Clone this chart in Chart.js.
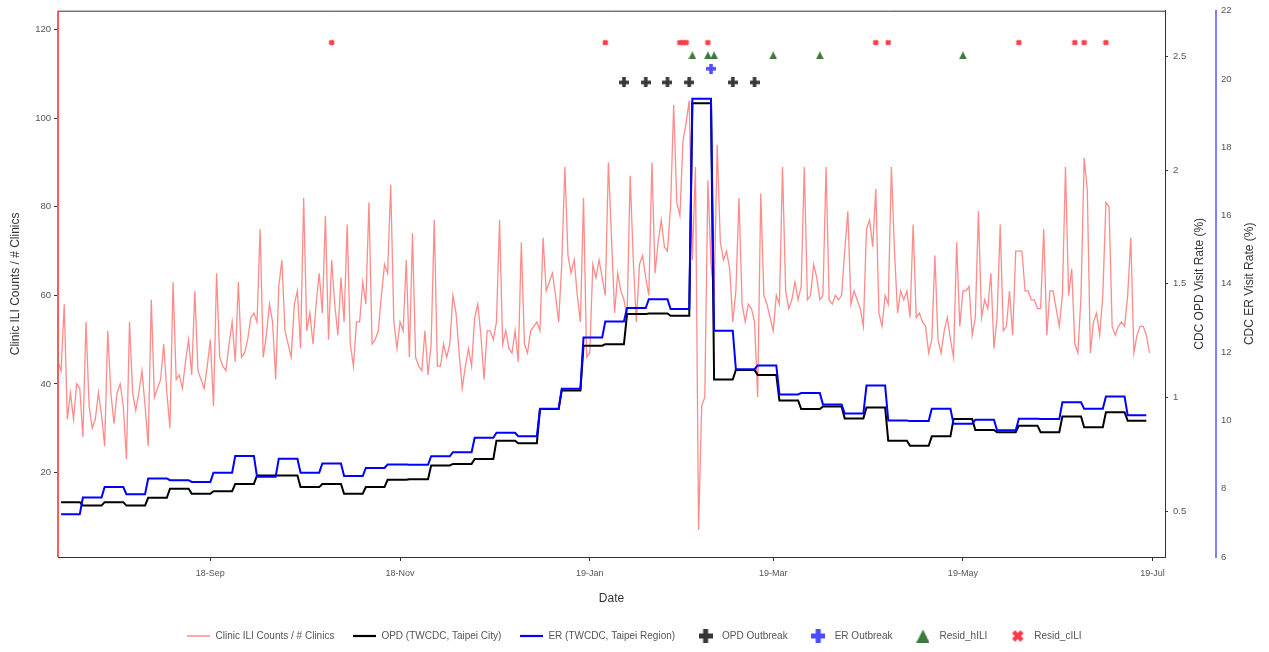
<!DOCTYPE html>
<html>
<head>
<meta charset="utf-8">
<title>Clinic ILI vs CDC visit rates</title>
<script src="https://cdn.jsdelivr.net/npm/chart.js@4/dist/chart.umd.min.js"></script>
<style>
  html, body { margin: 0; padding: 0; background: #fff; }
  #wrap { width: 1269px; height: 652px; }
</style>
</head>
<body>
<div id="wrap"><canvas id="iliChart" width="1269" height="652"></canvas></div>
<script>
// x values are days counted from 2018-07-01
const ILI_FIRST_DAY = 13;
const iliValues = [
  45, 43,
  58, 32, 38, 32, 40, 39, 28,
  54, 35, 30, 32, 38, 33, 26,
  52, 38, 31, 38, 40, 35, 23,
  54, 38, 34, 38, 43, 35, 26,
  59, 37, 39, 41, 49, 38, 30,
  63, 41, 42, 39, 45, 50, 42,
  61, 43, 41, 39, 44, 50, 35,
  65, 46, 44, 43, 49, 54, 45,
  63, 46, 47, 50, 55, 56, 54,
  75, 46, 51, 58, 54, 41, 62,
  68, 52, 49, 46, 58, 61, 48,
  82, 52, 56, 49, 58, 65, 56,
  78, 50, 68, 58, 51, 64, 54,
  76, 49, 44, 54, 54, 63, 58,
  81, 49, 50, 52, 60, 67, 65,
  85, 54, 48, 54, 52, 68, 46,
  74, 46, 44, 43, 52, 42, 49,
  77, 44, 44, 49, 46, 49, 60,
  56, 47, 39, 44, 48, 44, 55,
  58, 51, 41, 52, 52, 50, 54,
  77, 49, 52, 48, 47, 52, 45,
  72, 49, 47, 52, 53, 54, 52,
  73, 61, 63, 65, 60, 54, 67,
  89, 69, 65, 68, 60, 54, 82,
  46, 47, 67, 64, 68, 64, 60,
  90, 73, 56, 65, 61, 59, 55,
  87, 68, 54, 67, 69, 64, 60,
  90, 65, 72, 77, 71, 70, 80,
  103, 81, 78, 95, 99, 104, 68,
  89, 7, 35, 37, 86, 67, 60,
  94, 72, 68, 70, 66, 54, 61,
  82, 58, 54, 58, 57, 54, 37,
  83, 60, 58, 55, 52, 60, 58,
  89, 61, 57, 59, 63, 59, 62,
  89, 59, 60, 67, 64, 59, 60,
  89, 59, 58, 60, 59, 60, 70,
  79, 58, 61, 59, 57, 53, 75,
  77, 71, 84, 56, 53, 60, 58,
  89, 70, 56, 61, 59, 61, 55,
  76, 55, 56, 54, 53, 47, 50,
  69, 50, 47, 52, 55, 50, 46,
  72, 53, 61, 61, 62, 51, 55,
  79, 55, 59, 57, 65, 48, 55,
  76, 52, 53, 61, 51, 70, 70,
  70, 61, 61, 59, 59, 57, 57,
  75, 51, 61, 61, 57, 53, 60,
  89, 60, 66, 49, 47, 60, 91,
  84, 47, 54, 56, 51, 60, 81,
  80, 53, 51, 53, 54, 53, 60,
  73, 47, 51, 53, 53, 51, 47
];

// weekly CDC rates, week k covers days WEEK_FIRST_DAY + 7k ... +6
const WEEK_FIRST_DAY = 14;
const opdWeekly = [
  0.541, 0.526, 0.541, 0.526, 0.560, 0.600, 0.578, 0.589, 0.621, 0.658,
  0.658, 0.607, 0.621, 0.578, 0.607, 0.639, 0.642, 0.702, 0.709, 0.731,
  0.811, 0.800, 0.950, 1.031, 1.228, 1.235, 1.367, 1.370, 1.360, 2.293,
  1.080, 1.122, 1.100, 0.988, 0.950, 0.961, 0.909, 0.957, 0.811, 0.789,
  0.830, 0.906, 0.858, 0.848, 0.877, 0.848, 0.917, 0.870, 0.936, 0.899
];
const erWeekly = [
  7.25, 7.74, 8.05, 7.84, 8.30, 8.25, 8.20, 8.47, 8.96, 8.35,
  8.88, 8.47, 8.74, 8.37, 8.61, 8.71, 8.70, 8.95, 9.07, 9.49,
  9.64, 9.54, 10.34, 10.93, 12.43, 12.90, 13.29, 13.55, 13.26, 19.42,
  12.63, 11.50, 11.61, 10.76, 10.80, 10.47, 10.20, 11.02, 10.00, 9.98,
  10.34, 9.90, 10.02, 9.71, 10.05, 10.04, 10.53, 10.34, 10.70, 10.15
];

// alert markers (days) and the left-axis level each row is drawn at
const opdOutbreakDays = [195, 202, 209, 216, 230, 237];
const erOutbreakDays = [223];
const residHiliDays = [217, 222, 224, 243, 258, 304];
const residCiliDays = [101, 189, 213, 214, 215, 222, 276, 280, 322, 340, 343, 350];
const OPD_OUTBREAK_LEVEL = 108.1;
const ER_OUTBREAK_LEVEL = 111.2;
const HILI_LEVEL = 114.2;
const CILI_LEVEL = 117.1;

const xTickDays = [62, 123, 184, 243, 304, 365];
const xTickLabels = ["18-Sep", "18-Nov", "19-Jan", "19-Mar", "19-May", "19-Jul"];
const leftTicks = [20, 40, 60, 80, 100, 120];
const opdTicks = [0.5, 1, 1.5, 2, 2.5];
const erTicks = [6, 8, 10, 12, 14, 16, 18, 20, 22];

const NARROW = "'Liberation Sans Narrow', 'Liberation Sans', Arial, sans-serif";
const REGULAR = "'Liberation Sans', Arial, sans-serif";
Chart.defaults.font.family = NARROW;
Chart.defaults.color = "#555";

// small canvases used as point styles (chart + legend)
function symbol(w, h, draw) {
  const c = document.createElement("canvas");
  c.width = w;
  c.height = h;
  draw(c.getContext("2d"), w, h);
  return c;
}
function plus(size, lw, color) {
  return symbol(size, size, (g, w, h) => {
    g.strokeStyle = color;
    g.lineWidth = lw;
    g.beginPath();
    g.moveTo(w / 2, 0); g.lineTo(w / 2, h);
    g.moveTo(0, h / 2); g.lineTo(w, h / 2);
    g.stroke();
  });
}
function cross(size, lw, color) {
  return symbol(size, size, (g, w, h) => {
    g.strokeStyle = color;
    g.lineWidth = lw;
    g.beginPath();
    g.moveTo(lw / 2, lw / 2); g.lineTo(w - lw / 2, h - lw / 2);
    g.moveTo(w - lw / 2, lw / 2); g.lineTo(lw / 2, h - lw / 2);
    g.stroke();
  });
}
function triangle(size, color) {
  return symbol(size, size, (g, w, h) => {
    g.fillStyle = color;
    g.beginPath();
    g.moveTo(w / 2, 0); g.lineTo(w, h); g.lineTo(0, h);
    g.closePath();
    g.fill();
  });
}
function lineKey(w, lw, color) {
  return symbol(w, 4, (g, cw, ch) => {
    g.strokeStyle = color;
    g.lineWidth = lw;
    g.beginPath();
    g.moveTo(0, ch / 2); g.lineTo(cw, ch / 2);
    g.stroke();
  });
}

const PINK = "rgba(255, 110, 110, 0.8)";
const OPD_MARK = "#363636";
const ER_MARK = "#4b4bff";
const HILI_MARK = "#3b7a3b";
const CILI_MARK = "#ff3a4a";

const iliPoints = iliValues.map((v, i) => ({ x: ILI_FIRST_DAY + i, y: v }));
function weeklyToDaily(weekly) {
  const pts = [];
  weekly.forEach((v, k) => {
    for (let d = 0; d < 7; d++) pts.push({ x: WEEK_FIRST_DAY + 7 * k + d, y: v });
  });
  return pts;
}
const markerPoints = (days, level) => days.map((d) => ({ x: d, y: level }));

function markerSet(label, days, level, chartSym, legendSym) {
  return {
    label,
    data: markerPoints(days, level),
    yAxisID: "y",
    showLine: false,
    pointStyle: chartSym,
    pointRadius: 5,
    legendSymbol: legendSym,
    order: 0,
  };
}

const frameAndTitles = {
  id: "frameAndTitles",
  afterDraw(chart) {
    const { ctx, chartArea, scales } = chart;
    ctx.save();
    ctx.strokeStyle = "#333";
    ctx.lineWidth = 1;
    ctx.beginPath();
    ctx.moveTo(chartArea.left, chartArea.top + 0.5);
    ctx.lineTo(chartArea.right, chartArea.top + 0.5);
    ctx.stroke();

    // red left axis line drawn on top so it stays visible
    ctx.strokeStyle = "#ff5a5a";
    ctx.lineWidth = 2;
    ctx.beginPath();
    ctx.moveTo(chartArea.left, chartArea.top);
    ctx.lineTo(chartArea.left, chartArea.bottom);
    ctx.stroke();

    // right-hand titles read bottom-to-top like the left one
    ctx.fillStyle = "#333";
    ctx.font = "12px " + REGULAR;
    ctx.textAlign = "center";
    ctx.textBaseline = "middle";
    const midY = (chartArea.top + chartArea.bottom) / 2;
    [
      [scales.yOpd.right - 16, "CDC OPD Visit Rate (%)"],
      [scales.yEr.right - 19, "CDC ER Visit Rate (%)"],
    ].forEach(([x, text]) => {
      ctx.save();
      ctx.translate(x, midY);
      ctx.rotate(-Math.PI / 2);
      ctx.fillText(text, 0, 0);
      ctx.restore();
    });
    ctx.restore();
  },
};

const tickMarks = { display: true, drawOnChartArea: false, drawTicks: true, tickLength: 4, color: "#333" };

new Chart(document.getElementById("iliChart"), {
  type: "line",
  data: {
    datasets: [
      {
        label: "Clinic ILI Counts / # Clinics",
        data: iliPoints,
        yAxisID: "y",
        borderColor: PINK,
        borderWidth: 1.3,
        pointRadius: 0,
        legendSymbol: lineKey(23, 1.5, PINK),
        order: 3,
      },
      {
        label: "OPD (TWCDC, Taipei City)",
        data: weeklyToDaily(opdWeekly),
        yAxisID: "yOpd",
        borderColor: "#000",
        borderWidth: 2,
        pointRadius: 0,
        legendSymbol: lineKey(23, 2.2, "#000"),
        order: 2,
      },
      {
        label: "ER (TWCDC, Taipei Region)",
        data: weeklyToDaily(erWeekly),
        yAxisID: "yEr",
        borderColor: "#0000ff",
        borderWidth: 2,
        pointRadius: 0,
        legendSymbol: lineKey(23, 2.2, "#0000ff"),
        order: 1,
      },
      markerSet("OPD Outbreak", opdOutbreakDays, OPD_OUTBREAK_LEVEL, plus(10, 3.5, OPD_MARK), plus(14, 5, OPD_MARK)),
      markerSet("ER Outbreak", erOutbreakDays, ER_OUTBREAK_LEVEL, plus(10, 3.5, ER_MARK), plus(14, 5, ER_MARK)),
      markerSet("Resid_hILI", residHiliDays, HILI_LEVEL, triangle(8, HILI_MARK), triangle(13, HILI_MARK)),
      markerSet("Resid_cILI", residCiliDays, CILI_LEVEL, cross(7, 2.8, CILI_MARK), cross(13, 4.5, CILI_MARK)),
    ],
  },
  options: {
    responsive: false,
    animation: false,
    events: [],
    layout: { padding: { bottom: 1 } },
    plugins: {
      tooltip: { enabled: false },
      legend: {
        position: "bottom",
        labels: {
          usePointStyle: true,
          pointStyleWidth: 23,
          boxHeight: 10,
          padding: 19,
          color: "#555",
          font: { size: 10 },
          generateLabels: (chart) =>
            chart.data.datasets.map((ds, i) => ({
              text: ds.label,
              datasetIndex: i,
              pointStyle: ds.legendSymbol,
              fillStyle: "#000",
              strokeStyle: "#000",
              lineWidth: 0,
              fontColor: "#555",
              hidden: false,
            })),
        },
      },
    },
    scales: {
      x: {
        type: "linear",
        min: 13,
        max: 369,
        afterBuildTicks: (s) => { s.ticks = xTickDays.map((v) => ({ value: v })); },
        afterFit: (s) => { s.height = 55; },
        ticks: { callback: (v, i) => xTickLabels[i], font: { size: 9 }, padding: 7, maxRotation: 0, autoSkip: false },
        grid: tickMarks,
        border: { display: true, color: "#333", width: 1 },
        title: { display: true, text: "Date", color: "#333", font: { family: REGULAR, size: 12 }, padding: { top: 4, bottom: 6 } },
      },
      y: {
        position: "left",
        min: 0.9,
        max: 124.3,
        afterBuildTicks: (s) => { s.ticks = leftTicks.map((v) => ({ value: v })); },
        afterFit: (s) => { s.width = 58; },
        ticks: { font: { size: 9.5 }, padding: 3 },
        grid: tickMarks,
        border: { display: false },
        title: { display: true, text: "Clinic ILI Counts / # Clinics", color: "#333", font: { family: REGULAR, size: 12 }, padding: { top: 8 } },
      },
      yOpd: {
        position: "right",
        weight: 0,
        min: 0.3,
        max: 2.7,
        afterBuildTicks: (s) => { s.ticks = opdTicks.map((v) => ({ value: v })); },
        afterFit: (s) => { s.width = 51; },
        ticks: { font: { size: 9.5 }, padding: 5, callback: (v) => String(v) },
        grid: { display: true, drawOnChartArea: false, drawTicks: true, tickLength: 3, color: "#333" },
        border: { display: true, color: "#333", width: 1 },
      },
      yEr: {
        position: "right",
        weight: 1,
        min: 6,
        max: 22,
        afterBuildTicks: (s) => { s.ticks = erTicks.map((v) => ({ value: v })); },
        afterFit: (s) => { s.width = 53; },
        ticks: { font: { size: 9.5 }, padding: 5, callback: (v) => String(v) },
        grid: { display: true, drawOnChartArea: false, drawTicks: false },
        border: { display: true, color: "#8080ff", width: 2 },
      },
    },
  },
  plugins: [frameAndTitles],
});
</script>
</body>
</html>
